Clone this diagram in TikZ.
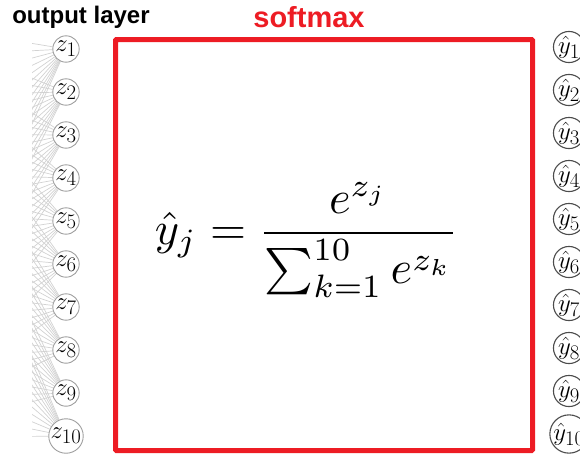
\documentclass[tikz,border=0pt]{standalone}
\usepackage{fontspec}
\setsansfont{Liberation Sans}
\usepackage{graphicx}
\usetikzlibrary{positioning,backgrounds}
\definecolor{smred}{RGB}{237,28,36}

\begin{document}
\begin{tikzpicture}[x=1pt, y=-1pt,
    every node/.style={inner sep=0pt},
    zunit/.style={circle, draw=gray!75, line width=0.9pt, fill=white,
                  minimum size=26pt, font=\Huge},
    yunit/.style={circle, draw=black!70, line width=1.1pt, fill=white,
                  minimum size=26pt, font=\Huge},
    wire/.style={gray!35, line width=0.7pt},
]
    \useasboundingbox (0,0) rectangle (580,456);
    %% hidden units, outside the view
    \foreach \j in {1,...,12}
        \coordinate (h\j) at (-110, {20+(\j-1)*38});
    %% output layer and softmax outputs
    \foreach \i in {1,...,10} {
        \node[zunit] (z\i) at (66, {49+(\i-1)*43}) {$z_{\i}$};
        \node[yunit] (y\i) at (569, {47+(\i-1)*43}) {$\hat{y}_{\i}$};
    }
    \begin{scope}[on background layer]
        \clip (32,0) rectangle (580,456);
        \foreach \i in {1,...,10}
            \foreach \j in {1,...,12}
                \draw[wire] (h\j) -- (z\i);
    \end{scope}
    %% softmax box
    \node[draw=smred, line width=5pt, rounded corners=1pt,
          minimum width=417pt, minimum height=411pt] (box) at (324,245) {};
    \node (eq) at (306.5,240) {\resizebox{303pt}{!}{$\displaystyle
        \hat{y}_j=\frac{e^{z_j}}{\sum_{k=1}^{10} e^{z_k}}$}};
    \node[font=\sffamily\bfseries\fontsize{24}{24}\selectfont]
        (outlbl) at (81,17) {output layer};
    \node[font=\sffamily\bfseries\fontsize{29}{29}\selectfont, text=smred]
        (smlbl) at (309,17) {softmax};
\end{tikzpicture}
\end{document}
